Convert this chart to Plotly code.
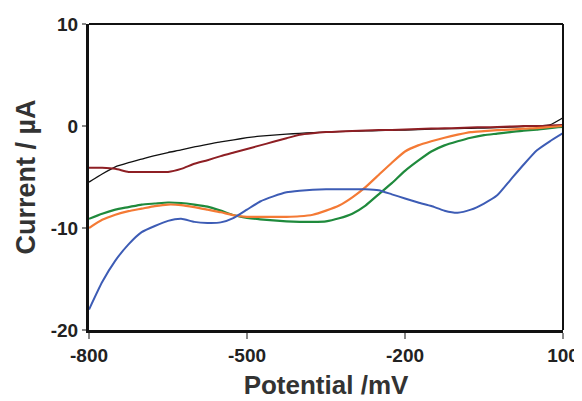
import plotly.graph_objects as go

potential = list(range(-800, 101, 25))

black = [-5.5, -4.7, -4.0, -3.6, -3.25, -2.9, -2.6, -2.35, -2.05, -1.8, -1.55, -1.35,
         -1.15, -1.0, -0.9, -0.8, -0.72, -0.65, -0.6, -0.55, -0.5, -0.48, -0.45, -0.42,
         -0.4, -0.35, -0.3, -0.28, -0.25, -0.22, -0.2, -0.15, -0.1, -0.05, 0.0, 0.1, 0.8]
darkred = [-4.1, -4.1, -4.2, -4.5, -4.5, -4.5, -4.5, -4.2, -3.7, -3.35, -2.95, -2.6,
           -2.25, -1.9, -1.55, -1.2, -0.85, -0.7, -0.6, -0.55, -0.5, -0.45, -0.4, -0.38,
           -0.35, -0.3, -0.25, -0.22, -0.2, -0.15, -0.12, -0.1, -0.05, 0.0, 0.0, 0.05, 0.1]
green = [-9.1, -8.6, -8.2, -7.95, -7.7, -7.6, -7.5, -7.55, -7.7, -7.9, -8.3, -8.75,
         -9.0, -9.15, -9.25, -9.35, -9.4, -9.4, -9.35, -9.05, -8.6, -7.8, -6.7, -5.6,
         -4.4, -3.4, -2.5, -1.9, -1.5, -1.15, -0.9, -0.75, -0.6, -0.45, -0.35, -0.2, -0.1]
orange = [-10.0, -9.2, -8.7, -8.35, -8.1, -7.85, -7.7, -7.75, -7.95, -8.2, -8.45, -8.75,
          -8.9, -8.9, -8.9, -8.9, -8.85, -8.7, -8.3, -7.8, -7.0, -6.0, -4.8, -3.6,
          -2.5, -1.9, -1.5, -1.15, -0.85, -0.6, -0.5, -0.4, -0.35, -0.25, -0.2, -0.1, 0.0]
blue = [-18.0, -15.3, -13.2, -11.6, -10.4, -9.8, -9.3, -9.1, -9.4, -9.5, -9.45, -9.0,
        -8.2, -7.4, -6.9, -6.5, -6.35, -6.25, -6.2, -6.2, -6.2, -6.2, -6.3, -6.7,
        -7.1, -7.5, -7.85, -8.3, -8.5, -8.2, -7.6, -6.8, -5.3, -3.8, -2.4, -1.5, -0.7]

x_ticks = [-800, -500, -200, 100]
x_ticktext = ["-800", "-500", "-200", "100"]
y_ticks = [10, 0, -10, -20]
y_ticktext = ["10", "0", "-10", "-20"]

series = [
    ("black", black, "#111111", 1.3),
    ("darkred", darkred, "#8e1f24", 2),
    ("green", green, "#1f8a3c", 2.2),
    ("orange", orange, "#f47a35", 2.2),
    ("blue", blue, "#3d5cb5", 2),
]

fig = go.Figure()
for name, vals, col, w in series:
    fig.add_trace(go.Scatter(x=potential, y=vals, mode="lines", name=name,
                             line=dict(color=col, width=w, shape="spline", smoothing=0.5),
                             showlegend=False))

FAM = "Liberation Sans, Arial, sans-serif"

# page body has an 8px margin, so the figure is sized to fit the 582x401 window
fig.update_layout(
    width=574, height=393,
    margin=dict(l=81, r=19, t=16, b=71),
    paper_bgcolor="white", plot_bgcolor="white",
    font=dict(family=FAM, size=15, color="#222222"),
    xaxis=dict(range=[-800, 100], tickvals=x_ticks, ticktext=x_ticktext, automargin=False,
               showgrid=False, zeroline=False, showline=True, linecolor="#111111",
               linewidth=3, ticks="outside", ticklen=6, tickwidth=1.5, tickcolor="#888888",
               tickfont=dict(family=FAM, size=19, color="#222222", weight="bold"),
               title=dict(text="Potential /mV", standoff=12,
                          font=dict(family=FAM, size=26, color="#333333", weight="bold"))),
    yaxis=dict(range=[-20, 10], tickvals=y_ticks, ticktext=y_ticktext, automargin=False,
               showgrid=False, zeroline=False, showline=True, linecolor="#111111",
               linewidth=3, ticks="outside", ticklen=4, tickwidth=1.5, tickcolor="#888888",
               tickfont=dict(family=FAM, size=19, color="#222222", weight="bold"),
               title=dict(text="Current / µA", standoff=8,
                          font=dict(family=FAM, size=27, color="#333333", weight="bold"))),
)

# top and right frame lines (thinner than left/bottom axes)
fig.add_shape(type="line", xref="paper", yref="paper", x0=0, x1=1, y0=1, y1=1,
              line=dict(color="#111111", width=2))
fig.add_shape(type="line", xref="paper", yref="paper", x0=1, x1=1, y0=0, y1=1,
              line=dict(color="#111111", width=2))

fig.write_html("out.html")
